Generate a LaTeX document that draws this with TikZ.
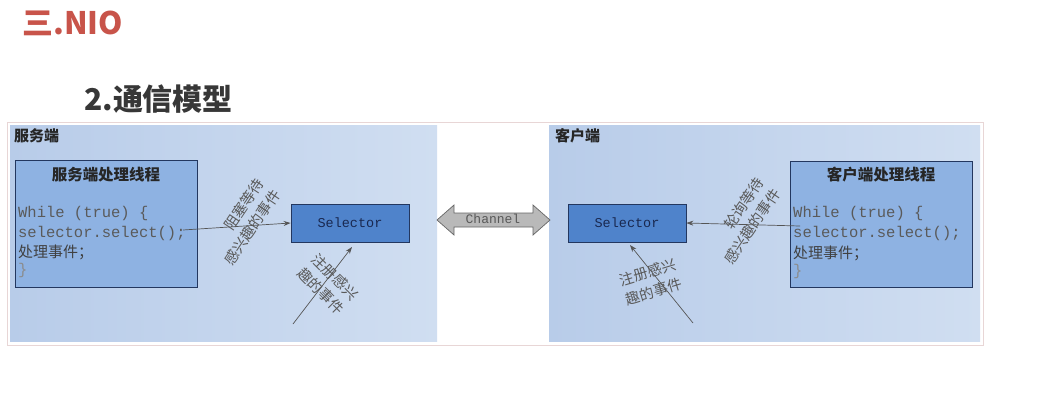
\documentclass[tikz,border=0pt]{standalone}
\usepackage{fontspec}
\setmonofont{Liberation Mono}
\newfontfamily\cjk{Noto Sans CJK SC}
\usetikzlibrary{arrows.meta}
\definecolor{titlered}{RGB}{200,84,74}
\definecolor{titlegray}{RGB}{55,55,55}
\definecolor{panelA}{RGB}{184,204,233}
\definecolor{panelB}{RGB}{208,222,241}
\definecolor{threadfill}{RGB}{142,178,226}
\definecolor{selfill}{RGB}{79,131,203}
\definecolor{boxline}{RGB}{35,55,95}
\definecolor{codegray}{RGB}{90,90,90}
\definecolor{arrowgray}{RGB}{85,85,85}
\definecolor{outerline}{RGB}{232,214,214}
\definecolor{chanfill}{RGB}{185,185,185}
\tikzset{
  panel/.style={left color=panelA, right color=panelB, draw=none},
  panellabel/.style={anchor=west, font=\cjk\bfseries\fontsize{15}{17}\selectfont, text=black!85, inner sep=0pt},
  threadbox/.style={draw=boxline, line width=0.8pt, fill=threadfill},
  threadtitle/.style={font=\cjk\bfseries\fontsize{15.5}{17}\selectfont, text=black!85, inner sep=0pt},
  codeline/.style={anchor=west, font=\ttfamily\fontsize{15.5}{17}\selectfont, text=codegray, inner sep=0pt},
  cjkline/.style={anchor=west, font=\cjk\fontsize{15}{17}\selectfont, text=black!75, inner sep=0pt},
  selbox/.style={draw=boxline, line width=0.8pt, fill=selfill, minimum width=118pt, minimum height=38pt, font=\ttfamily\fontsize{13.5}{15}\selectfont, text={rgb,255:red,25;green,40;blue,80}, inner sep=0pt},
  conn/.style={draw=arrowgray, line width=0.7pt, -{Stealth[length=7pt,width=5pt]}},
  lbl/.style={font=\cjk\fontsize{14.5}{20}\selectfont, text=black!65, inner sep=0pt},
}
\begin{document}
\begin{tikzpicture}[x=1pt,y=-1pt]
\useasboundingbox (0,0) rectangle (1045,416);
\fill[white] (0,0) rectangle (1045,416);
% titles
\node[anchor=west, inner sep=0pt, text=titlered, font=\cjk\bfseries\fontsize{31}{34}\selectfont] (t1) at (22,23) {三.NIO};
\node[anchor=west, inner sep=0pt, text=titlegray, font=\cjk\bfseries\fontsize{30}{33}\selectfont] (t2) at (84,99) {2.通信模型};
% outer frame
\draw[outerline, line width=0.8pt] (7,122) rectangle (983,345);
% panels
\path[panel] (10,125) rectangle (437,341);
\path[panel] (549,125) rectangle (980,341);
\node[panellabel] (sl) at (14,136) {服务端};
\node[panellabel] (cl) at (555,136) {客户端};
% server thread
\path[threadbox] (15,160) rectangle (197,287);
\node[threadtitle] (st) at (106,175) {服务端处理线程};
\node[codeline] (s1) at (18,213) {While (true) \{};
\node[codeline] (s2) at (18,233) {selector.select();};
\node[cjkline] (s3) at (18,252) {处理事件；};
\node[codeline, text=codegray!70] (s4) at (18,270) {\}};
% client thread
\path[threadbox] (790,161) rectangle (972,287);
\node[threadtitle] (ct) at (881,175) {客户端处理线程};
\node[codeline] (c1) at (793,213) {While (true) \{};
\node[codeline] (c2) at (793,233) {selector.select();};
\node[cjkline] (c3) at (793,253) {处理事件；};
\node[codeline, text=codegray!70] (c4) at (793,271) {\}};
% selectors
\node[selbox] (ssel) at (350,223) {Selector};
\node[selbox] (csel) at (627,223) {Selector};
% channel
\draw[fill=chanfill, draw=black!60, line width=0.7pt]
  (437,220) -- (454,205) -- (454,213) -- (533,213) -- (533,205) -- (550,220)
  -- (533,235) -- (533,227) -- (454,227) -- (454,235) -- cycle;
\node[font=\ttfamily\fontsize{13}{15}\selectfont, text=black!65, inner sep=0pt] (ch) at (493,219) {Channel};
% connectors
\coordinate (sa) at (183,230);
\coordinate (sb) at (293,324);
\coordinate (ca) at (800,226);
\coordinate (cb) at (693,323);
\draw[conn] (sa) -- (ssel.west);
\draw[conn] (sb) -- (352,247) coordinate (sbe);
\draw[conn] (ca) -- (csel.east);
\draw[conn] (cb) -- (630,245) coordinate (cbe);
% labels
\node[lbl, rotate=56, align=right] (l1) at (244,222) {阻塞等待\\感兴趣的事件};
\node[lbl, rotate=-45, align=left] (l2) at (328,284) {注册感兴\\趣的事件};
\node[lbl, rotate=56, align=right] (l3) at (744,221) {轮询等待\\感兴趣的事件};
\node[lbl, rotate=17, align=left] (l4) at (651,282) {注册感兴\\趣的事件};
\end{tikzpicture}
\end{document}
